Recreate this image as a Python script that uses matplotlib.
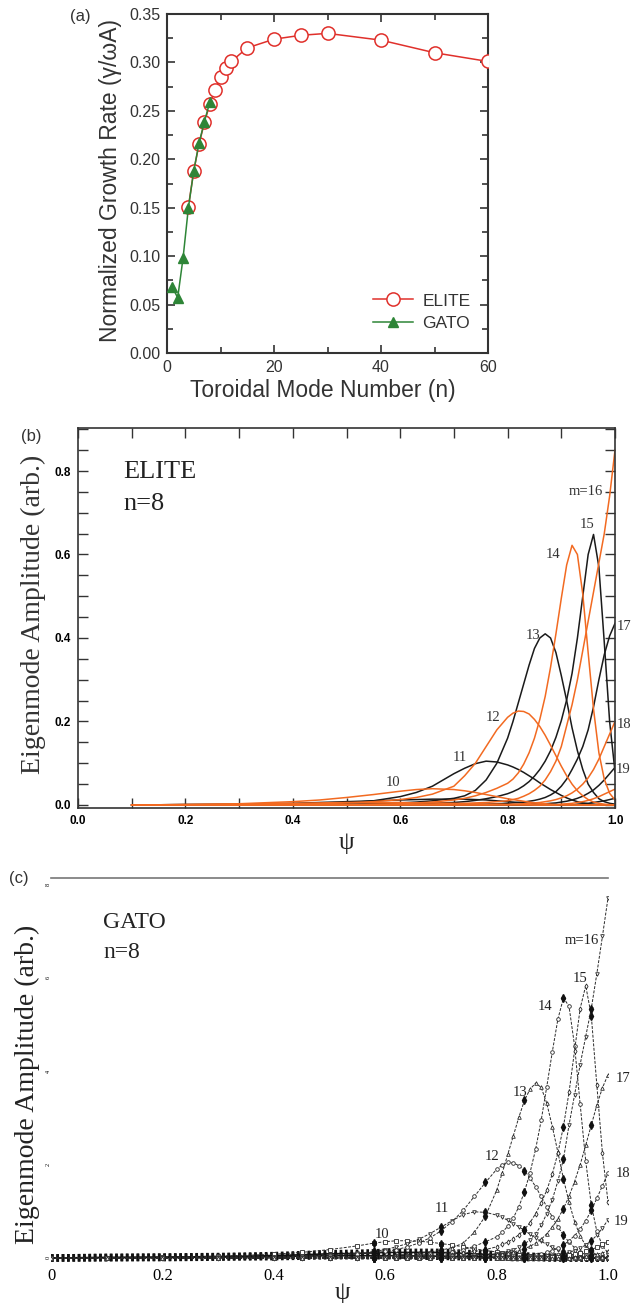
import matplotlib
matplotlib.use("Agg")
import matplotlib.pyplot as plt
from matplotlib.ticker import MultipleLocator

W, H = 643, 1303
SANS = ["Liberation Sans", "DejaVu Sans"]
SERIF = ["Liberation Serif", "DejaVu Serif"]

# ---- (a) growth rate vs toroidal mode number ----
elite_n = [4, 5, 6, 7, 8, 9, 10, 11, 12, 15, 20, 25, 30, 40, 50, 60]
elite_gamma = [0.151, 0.188, 0.216, 0.238, 0.257, 0.272, 0.285, 0.294, 0.301,
               0.315, 0.324, 0.328, 0.330, 0.323, 0.310, 0.301]
gato_n = [1, 2, 3, 4, 5, 6, 7, 8]
gato_gamma = [0.068, 0.057, 0.098, 0.150, 0.188, 0.217, 0.239, 0.259]

# ---- (b) ELITE poloidal harmonics, n=8 ----
psi_b = [0.10, 0.20, 0.30, 0.40, 0.45, 0.50, 0.55, 0.60, 0.63, 0.66, 0.70, 0.72,
         0.74, 0.76, 0.78, 0.80, 0.81, 0.82, 0.83, 0.84, 0.85, 0.86, 0.87, 0.88,
         0.89, 0.90, 0.91, 0.92, 0.93, 0.94, 0.95, 0.96, 0.97, 0.98, 0.99, 1.00]
elite_8 = [0.0, 0.001, 0.002, 0.004, 0.005, 0.006, 0.006, 0.006, 0.005, 0.005, 0.004, 0.003,
           0.003, 0.002, 0.002, 0.001, 0.001, 0.001, 0.001, 0.001, 0, 0, 0, 0,
           0, 0, 0, 0, 0, 0, 0, 0, 0, 0, 0, 0]
elite_9 = [0.0, 0.001, 0.002, 0.004, 0.006, 0.008, 0.010, 0.012, 0.013, 0.014, 0.014, 0.014,
           0.013, 0.012, 0.010, 0.008, 0.007, 0.006, 0.005, 0.004, 0.003, 0.002, 0.002, 0.001,
           0.001, 0, 0, 0, 0, 0, 0, 0, 0, 0, 0, 0]
elite_10 = [0.0, 0.001, 0.003, 0.008, 0.012, 0.018, 0.025, 0.033, 0.037, 0.039, 0.037, 0.034,
            0.030, 0.025, 0.020, 0.015, 0.013, 0.011, 0.009, 0.007, 0.005, 0.004, 0.003, 0.002,
            0.001, 0.001, 0, 0, 0, 0, 0, 0, 0, 0, 0, 0]
elite_11 = [0.0, 0.001, 0.001, 0.002, 0.003, 0.005, 0.010, 0.020, 0.030, 0.045, 0.075, 0.088,
            0.099, 0.105, 0.103, 0.096, 0.091, 0.085, 0.078, 0.070, 0.062, 0.053, 0.045, 0.037,
            0.030, 0.023, 0.017, 0.012, 0.008, 0.005, 0.003, 0.002, 0.001, 0, 0, 0]
elite_12 = [0.0, 0.0, 0.001, 0.002, 0.003, 0.005, 0.008, 0.013, 0.018, 0.026, 0.045, 0.070,
            0.100, 0.140, 0.180, 0.210, 0.220, 0.225, 0.224, 0.218, 0.205, 0.188, 0.167, 0.143,
            0.118, 0.093, 0.070, 0.050, 0.034, 0.022, 0.013, 0.007, 0.004, 0.002, 0.001, 0.0]
elite_13 = [0.0, 0.0, 0.0, 0.001, 0.001, 0.002, 0.003, 0.005, 0.007, 0.010, 0.016, 0.022,
            0.035, 0.060, 0.100, 0.160, 0.200, 0.245, 0.290, 0.335, 0.375, 0.400, 0.410, 0.400,
            0.365, 0.310, 0.250, 0.185, 0.130, 0.085, 0.050, 0.030, 0.015, 0.008, 0.004, 0.002]
elite_14 = [0.0, 0.0, 0.0, 0.0, 0.001, 0.001, 0.002, 0.003, 0.005, 0.007, 0.012, 0.016,
            0.022, 0.030, 0.040, 0.052, 0.062, 0.077, 0.098, 0.125, 0.160, 0.205, 0.260, 0.330,
            0.410, 0.495, 0.575, 0.622, 0.600, 0.505, 0.365, 0.230, 0.125, 0.062, 0.028, 0.012]
elite_15 = [0.0, 0.0, 0.0, 0.0, 0.0, 0.001, 0.001, 0.002, 0.003, 0.004, 0.006, 0.008,
            0.011, 0.015, 0.020, 0.027, 0.032, 0.038, 0.046, 0.056, 0.069, 0.085, 0.105, 0.130,
            0.162, 0.202, 0.252, 0.315, 0.400, 0.500, 0.600, 0.648, 0.570, 0.390, 0.200, 0.080]
elite_16 = [0.0, 0.0, 0.0, 0.0, 0.0, 0.0, 0.001, 0.001, 0.002, 0.002, 0.003, 0.004,
            0.005, 0.006, 0.008, 0.010, 0.013, 0.016, 0.021, 0.027, 0.035, 0.045, 0.060, 0.080,
            0.105, 0.140, 0.190, 0.240, 0.300, 0.370, 0.440, 0.510, 0.580, 0.650, 0.740, 0.850]
elite_17 = [0.0, 0.0, 0.0, 0.0, 0.0, 0.0, 0.0, 0.0, 0.0, 0.001, 0.001, 0.001,
            0.002, 0.002, 0.003, 0.004, 0.005, 0.006, 0.007, 0.009, 0.011, 0.014, 0.018, 0.024,
            0.032, 0.045, 0.062, 0.085, 0.110, 0.140, 0.180, 0.235, 0.300, 0.360, 0.405, 0.435]
elite_18 = [0.0, 0.0, 0.0, 0.0, 0.0, 0.0, 0.0, 0.0, 0.0, 0.0, 0.0, 0.0,
            0.0, 0.0, 0.001, 0.001, 0.002, 0.002, 0.003, 0.004, 0.005, 0.006, 0.008, 0.010,
            0.013, 0.017, 0.022, 0.029, 0.038, 0.050, 0.065, 0.085, 0.110, 0.140, 0.170, 0.200]
elite_19 = [0.0, 0.0, 0.0, 0.0, 0.0, 0.0, 0.0, 0.0, 0.0, 0.0, 0.0, 0.0,
            0.0, 0.0, 0.0, 0.0, 0.0, 0.0, 0.0, 0.0, 0.001, 0.002, 0.003, 0.004,
            0.005, 0.007, 0.009, 0.012, 0.016, 0.021, 0.028, 0.036, 0.047, 0.060, 0.075, 0.090]
elite_20 = [0.0, 0.0, 0.0, 0.0, 0.0, 0.0, 0.0, 0.0, 0.0, 0.0, 0.0, 0.0,
            0.0, 0.0, 0.0, 0.0, 0.0, 0.0, 0.0, 0.0, 0.0, 0.0, 0.0, 0.0,
            0.0, 0.002, 0.003, 0.004, 0.006, 0.008, 0.011, 0.015, 0.020, 0.026, 0.032, 0.038]
elite_21 = [0.0, 0.0, 0.0, 0.0, 0.0, 0.0, 0.0, 0.0, 0.0, 0.0, 0.0, 0.0,
            0.0, 0.0, 0.0, 0.0, 0.0, 0.0, 0.0, 0.0, 0.0, 0.0, 0.0, 0.0,
            0.0, 0.0, 0.0, 0.0, 0.002, 0.003, 0.004, 0.006, 0.008, 0.010, 0.013, 0.016]

# ---- (c) GATO poloidal harmonics, n=8 ----
psi_c = [0.00, 0.10, 0.20, 0.30, 0.40, 0.45, 0.50, 0.55, 0.58, 0.60, 0.62, 0.64,
         0.66, 0.68, 0.70, 0.72, 0.74, 0.76, 0.78, 0.80, 0.81, 0.82, 0.83, 0.84,
         0.85, 0.86, 0.87, 0.88, 0.89, 0.90, 0.91, 0.92, 0.93, 0.94, 0.95, 0.96,
         0.97, 0.98, 0.99, 1.00]
gato_8 = [0.00, 0.01, 0.01, 0.02, 0.03, 0.04, 0.05, 0.05, 0.05, 0.05, 0.05, 0.05,
          0.04, 0.04, 0.04, 0.03, 0.03, 0.03, 0.02, 0.02, 0.02, 0.02, 0.01, 0.01,
          0.01, 0.01, 0.01, 0.01, 0, 0, 0, 0, 0, 0, 0, 0,
          0, 0, 0, 0]
gato_9 = [0.00, 0.01, 0.02, 0.03, 0.05, 0.07, 0.09, 0.10, 0.11, 0.12, 0.12, 0.12,
          0.12, 0.12, 0.12, 0.11, 0.10, 0.09, 0.08, 0.07, 0.06, 0.06, 0.05, 0.05,
          0.04, 0.04, 0.03, 0.03, 0.02, 0.02, 0.02, 0.01, 0.01, 0.01, 0.01, 0,
          0, 0, 0, 0]
gato_10 = [0.00, 0.01, 0.02, 0.04, 0.08, 0.12, 0.18, 0.26, 0.32, 0.35, 0.37, 0.37,
           0.36, 0.34, 0.31, 0.28, 0.24, 0.20, 0.16, 0.13, 0.11, 0.10, 0.08, 0.07,
           0.06, 0.05, 0.04, 0.03, 0.02, 0.02, 0.01, 0.01, 0, 0, 0, 0,
           0, 0, 0, 0]
gato_11 = [0.00, 0.01, 0.01, 0.02, 0.03, 0.04, 0.06, 0.10, 0.14, 0.18, 0.24, 0.31,
           0.40, 0.52, 0.66, 0.80, 0.93, 0.99, 0.98, 0.92, 0.87, 0.81, 0.74, 0.67,
           0.59, 0.51, 0.43, 0.36, 0.29, 0.23, 0.17, 0.12, 0.08, 0.05, 0.03, 0.02,
           0.01, 0.01, 0, 0]
gato_12 = [0.00, 0.00, 0.01, 0.01, 0.02, 0.03, 0.05, 0.08, 0.11, 0.14, 0.18, 0.24,
           0.32, 0.43, 0.58, 0.78, 1.02, 1.32, 1.62, 1.90, 1.99, 2.05, 2.04, 1.98,
           1.87, 1.72, 1.53, 1.32, 1.10, 0.88, 0.67, 0.49, 0.34, 0.22, 0.13, 0.07,
           0.04, 0.02, 0.01, 0]
gato_13 = [0.00, 0.00, 0.00, 0.00, 0.01, 0.01, 0.02, 0.03, 0.04, 0.05, 0.06, 0.08,
           0.10, 0.13, 0.17, 0.22, 0.32, 0.55, 0.90, 1.45, 1.82, 2.22, 2.62, 3.02,
           3.38, 3.62, 3.75, 3.66, 3.32, 2.82, 2.27, 1.70, 1.20, 0.78, 0.47, 0.27,
           0.14, 0.07, 0.03, 0.02]
gato_14 = [0.00, 0.00, 0.00, 0.00, 0.00, 0.00, 0.01, 0.01, 0.02, 0.03, 0.04, 0.05,
           0.06, 0.08, 0.10, 0.13, 0.18, 0.25, 0.35, 0.45, 0.55, 0.68, 0.86, 1.10,
           1.42, 1.83, 2.33, 2.95, 3.67, 4.42, 5.12, 5.58, 5.40, 4.55, 3.30, 2.08,
           1.14, 0.57, 0.26, 0.11]
gato_15 = [0.00, 0.00, 0.00, 0.00, 0.00, 0.00, 0.00, 0.01, 0.01, 0.02, 0.02, 0.03,
           0.04, 0.05, 0.06, 0.07, 0.10, 0.14, 0.18, 0.24, 0.29, 0.34, 0.41, 0.50,
           0.61, 0.76, 0.95, 1.18, 1.45, 1.80, 2.25, 2.82, 3.55, 4.45, 5.35, 5.84,
           5.20, 3.70, 2.25, 1.20]
gato_16 = [0.00, 0.00, 0.00, 0.00, 0.00, 0.00, 0.00, 0.00, 0.01, 0.01, 0.01, 0.02,
           0.02, 0.03, 0.03, 0.04, 0.05, 0.06, 0.07, 0.09, 0.11, 0.14, 0.18, 0.23,
           0.30, 0.39, 0.52, 0.70, 0.95, 1.25, 1.65, 2.12, 2.85, 3.50, 4.15, 4.75,
           5.35, 6.10, 6.90, 7.72]
gato_17 = [0.00, 0.00, 0.00, 0.00, 0.00, 0.00, 0.00, 0.00, 0.00, 0.00, 0.01, 0.01,
           0.02, 0.02, 0.03, 0.03, 0.04, 0.05, 0.06, 0.08, 0.09, 0.11, 0.13, 0.16,
           0.20, 0.25, 0.32, 0.40, 0.52, 0.66, 0.84, 1.06, 1.32, 1.64, 2.00, 2.42,
           2.85, 3.28, 3.65, 3.93]
gato_18 = [0.00, 0.00, 0.00, 0.00, 0.00, 0.00, 0.00, 0.00, 0.00, 0.00, 0.00, 0.00,
           0.00, 0.00, 0.00, 0.00, 0.00, 0.00, 0.00, 0.01, 0.01, 0.02, 0.02, 0.03,
           0.04, 0.05, 0.07, 0.09, 0.12, 0.16, 0.21, 0.28, 0.37, 0.48, 0.62, 0.80,
           1.02, 1.28, 1.55, 1.82]
gato_19 = [0.00, 0.00, 0.00, 0.00, 0.00, 0.00, 0.00, 0.00, 0.00, 0.00, 0.00, 0.00,
           0.00, 0.00, 0.00, 0.00, 0.00, 0.00, 0.00, 0.00, 0.00, 0.00, 0.00, 0.00,
           0.01, 0.02, 0.02, 0.03, 0.04, 0.05, 0.07, 0.09, 0.12, 0.16, 0.21, 0.28,
           0.37, 0.49, 0.64, 0.82]
gato_20 = [0.00, 0.00, 0.00, 0.00, 0.00, 0.00, 0.00, 0.00, 0.00, 0.00, 0.00, 0.00,
           0.00, 0.00, 0.00, 0.00, 0.00, 0.00, 0.00, 0.00, 0.00, 0.00, 0.00, 0.00,
           0.00, 0.00, 0.00, 0.00, 0.00, 0.02, 0.03, 0.04, 0.06, 0.08, 0.10, 0.14,
           0.18, 0.23, 0.29, 0.35]
gato_21 = [0.00, 0.00, 0.00, 0.00, 0.00, 0.00, 0.00, 0.00, 0.00, 0.00, 0.00, 0.00,
           0.00, 0.00, 0.00, 0.00, 0.00, 0.00, 0.00, 0.00, 0.00, 0.00, 0.00, 0.00,
           0.00, 0.00, 0.00, 0.00, 0.00, 0.00, 0.00, 0.00, 0.01, 0.02, 0.03, 0.04,
           0.06, 0.08, 0.11, 0.15]

# harmonic labels: (text, psi, amplitude)
labels_b = [("m=16", 0.946, 0.75), ("15", 0.948, 0.672), ("14", 0.885, 0.60),
            ("13", 0.848, 0.405), ("12", 0.773, 0.21), ("11", 0.711, 0.113),
            ("10", 0.587, 0.055), ("17", 1.016, 0.427), ("18", 1.016, 0.194),
            ("19", 1.016, 0.084)]
labels_c = [("m=16", 0.953, 6.82), ("15", 0.950, 6.0), ("14", 0.887, 5.39),
            ("13", 0.843, 3.54), ("12", 0.791, 2.18), ("11", 0.702, 1.07),
            ("10", 0.595, 0.50), ("17", 1.027, 3.86), ("18", 1.027, 1.82),
            ("19", 1.024, 0.79)]


def box(l, t, r, b):
    return [l / W, 1 - b / H, (r - l) / W, (b - t) / H]


def at(x, y):
    return x / W, 1 - y / H


fig = plt.figure(figsize=(W / 100, H / 100), dpi=100)

# ---------------- panel (a) ----------------
ax = fig.add_axes(box(167, 14, 488, 353))
red = "#e0302b"
green = "#2e8537"
ax.plot(elite_n, elite_gamma, "-o", color=red, lw=1.1, ms=9.5, mfc="white",
        mec=red, mew=1.1, label="ELITE", zorder=3)
ax.plot(gato_n, gato_gamma, "-^", color=green, lw=1.1, ms=6.5, mfc=green,
        mec=green, label="GATO", zorder=4)
ax.set_xlim(0, 60)
ax.set_ylim(0, 0.35)
ax.xaxis.set_major_locator(MultipleLocator(20))
ax.xaxis.set_minor_locator(MultipleLocator(10))
ax.yaxis.set_major_locator(MultipleLocator(0.05))
ax.yaxis.set_minor_locator(MultipleLocator(0.025))
ax.set_yticklabels([f"{v:.2f}" for v in ax.get_yticks()])
ax.tick_params(which="both", direction="in", top=True, right=True,
               labelsize=11.5, labelcolor="#333333", color="#333333", width=1.2)
ax.tick_params(which="major", length=6, pad=5)
ax.tick_params(which="minor", length=4)
for lab in ax.get_xticklabels() + ax.get_yticklabels():
    lab.set_family(SANS)
for s in ax.spines.values():
    s.set_linewidth(1.5)
    s.set_color("#333333")
leg = ax.legend(loc="center left", bbox_to_anchor=(at(364, 312)),
                bbox_transform=fig.transFigure, frameon=False, borderpad=0,
                handlelength=2.3, handletextpad=0.55, labelspacing=0.4,
                prop={"family": SANS, "size": 12.5})
for t in leg.get_texts():
    t.set_color("#333333")
fig.text(*at(80, 16), "(a)", family=SANS, size=12, color="#333333",
         ha="center", va="center")
fig.text(*at(111, 181), "Normalized Growth Rate (\u03b3/\u03c9A)", family=SANS,
         size=16.5, color="#333333", rotation=90, ha="center", va="center")
fig.text(*at(323, 390), "Toroidal Mode Number (n)", family=SANS, size=16.5,
         color="#333333", ha="center", va="center")

# ---------------- panel (b) ----------------
ax = fig.add_axes(box(78, 428, 615, 808))
orange = "#f26a21"
black = "#1a1a1a"
elite_curves = [elite_9, elite_11, elite_13, elite_15, elite_17, elite_19, elite_21,
                elite_8, elite_10, elite_12, elite_14, elite_16, elite_18, elite_20]
elite_colors = [black] * 7 + [orange] * 7
for amp, col in zip(elite_curves, elite_colors):
    ax.plot(psi_b, amp, color=col, lw=1.1, solid_joinstyle="round")
ax.set_xlim(0, 1.0)
ax.set_ylim(-0.0072, 0.903)
ax.xaxis.set_major_locator(MultipleLocator(0.2))
ax.xaxis.set_minor_locator(MultipleLocator(0.1))
ax.yaxis.set_major_locator(MultipleLocator(0.2))
ax.yaxis.set_minor_locator(MultipleLocator(0.05))
ax.set_xticklabels([f"{v:.1f}" for v in ax.get_xticks()])
ax.set_yticklabels([f"{v:.1f}" for v in ax.get_yticks()])
ax.tick_params(which="both", direction="in", top=True, right=True,
               labelsize=8.5, color="#333333", width=1.0)
ax.tick_params(which="major", length=7, pad=5)
ax.tick_params(which="minor", length=7)
for lab in ax.get_xticklabels() + ax.get_yticklabels():
    lab.set_family(SANS)
    lab.set_fontweight("bold")
for s in ax.spines.values():
    s.set_linewidth(1.2)
    s.set_color("#333333")
for txt, x, y in labels_b:
    ax.text(x, y, txt, family=SERIF, size=10.5, color="#333333",
            ha="center", va="center", clip_on=False)
fig.text(*at(31, 436), "(b)", family=SANS, size=12, color="#333333",
         ha="center", va="center")
fig.text(*at(123, 472), "ELITE", family=SERIF, size=19, color="#222222",
         ha="left", va="center")
fig.text(*at(123, 504), "n=8", family=SERIF, size=19, color="#222222",
         ha="left", va="center")
fig.text(*at(33, 614), "Eigenmode Amplitude (arb.)", family=SERIF, size=20,
         color="#333333", rotation=90, ha="center", va="center")
fig.text(*at(346, 843), "\u03c8", family=SERIF, size=18, color="#222222",
         ha="center", va="center")

# ---------------- panel (c) ----------------
ax = fig.add_axes(box(51, 878, 608, 1265))
gato_band = [gato_8, gato_9]
for amp in gato_band:
    ax.plot(psi_c, amp, color="#111111", lw=5.5, dashes=(0.35, 0.35),
            solid_capstyle="butt")
    ax.plot(psi_c, amp, color="#111111", lw=1.2)
gato_curves = [gato_10, gato_11, gato_12, gato_13, gato_14, gato_15,
               gato_16, gato_17, gato_18, gato_19, gato_20, gato_21]
gato_marks = ["s", "v", "o", "^", "o", "d", "v", "^", "o", "v", "s", "^"]
dense_pts = [8, 14, 18, 24, 31, 36]
for amp, mk in zip(gato_curves, gato_marks):
    ax.plot(psi_c, amp, color="#2a2a2a", lw=0.7, dashes=(3, 1.5), marker=mk,
            ms=2.6, mfc="white", mec="#2a2a2a", mew=0.6)
    ax.plot(psi_c, amp, ls="none", marker="d", ms=3.8, color="#111111",
            markevery=dense_pts)
ax.set_xlim(0, 1.0)
ax.set_ylim(-0.15, 8.15)
ax.set_xticks([0, 0.2, 0.4, 0.6, 0.8, 1.0])
ax.set_xticklabels(["0", "0.2", "0.4", "0.6", "0.8", "1.0"])
ax.set_yticks([0, 2, 4, 6, 8])
ax.set_yticklabels(["0", "2", "4", "6", "8"])
ax.tick_params(axis="x", length=0, pad=2, labelsize=12)
ax.tick_params(axis="y", length=0, pad=0, labelsize=4.5, labelrotation=90)
for lab in ax.get_xticklabels() + ax.get_yticklabels():
    lab.set_family(SERIF)
for side in ["left", "right", "bottom"]:
    ax.spines[side].set_visible(False)
ax.spines["top"].set_color("#777777")
ax.spines["top"].set_linewidth(1.2)
for txt, x, y in labels_c:
    ax.text(x, y, txt, family=SERIF, size=10.5, color="#222222",
            ha="center", va="center", clip_on=False)
fig.text(*at(19, 878), "(c)", family=SANS, size=12, color="#333333",
         ha="center", va="center")
fig.text(*at(103, 922), "GATO", family=SERIF, size=17, color="#222222",
         ha="left", va="center")
fig.text(*at(103, 953), "n=8", family=SERIF, size=17, color="#222222",
         ha="left", va="center")
fig.text(*at(27, 1084), "Eigenmode Amplitude (arb.)", family=SERIF, size=20,
         color="#222222", rotation=90, ha="center", va="center")
fig.text(*at(342, 1293), "\u03c8", family=SERIF, size=18, color="#222222",
         ha="center", va="center")

fig.savefig("out.png", dpi=100)
